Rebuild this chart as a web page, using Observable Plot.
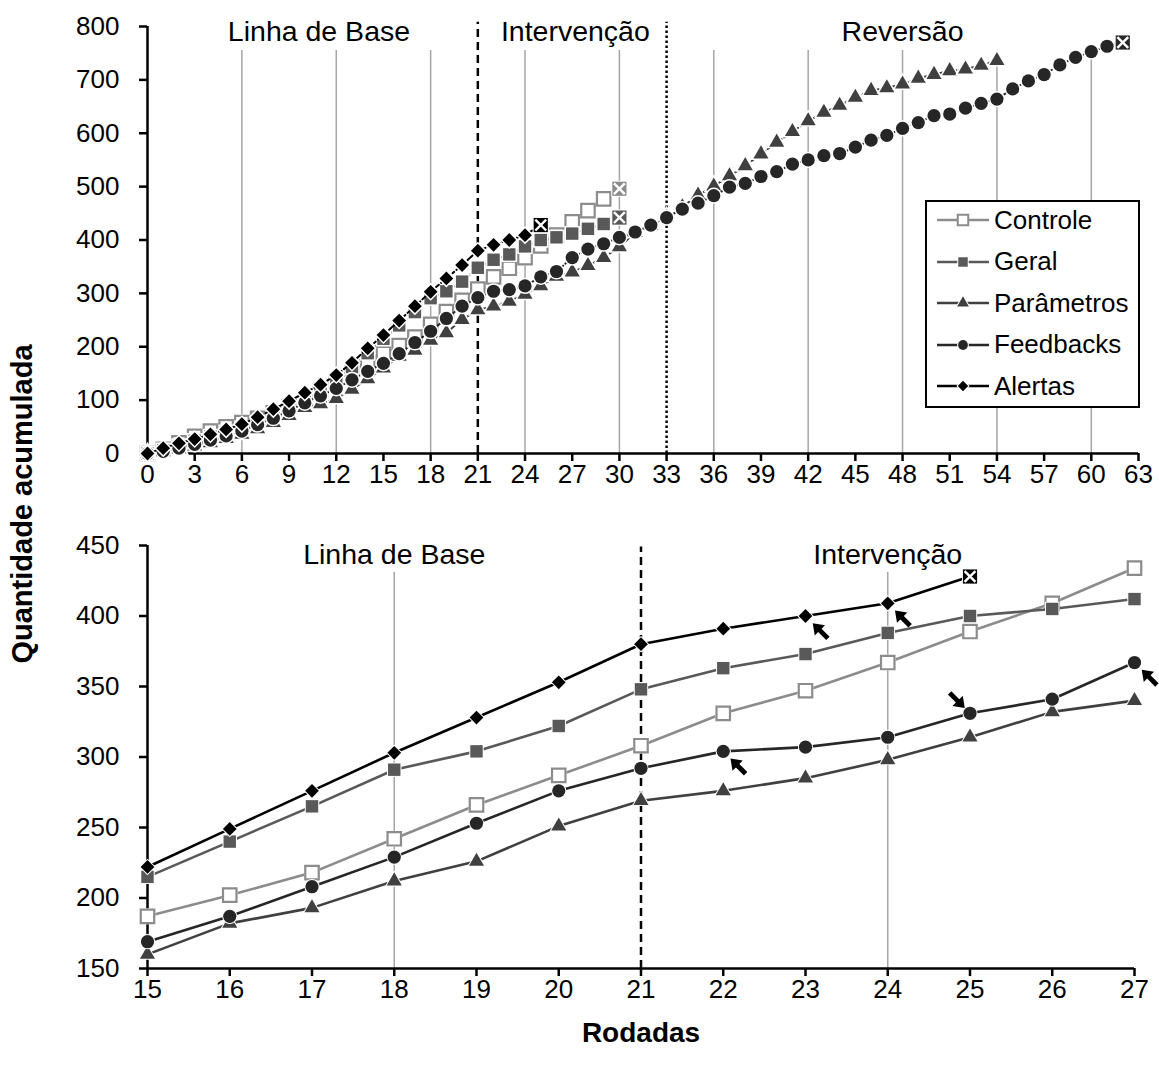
<!DOCTYPE html>
<html><head><meta charset="utf-8">
<script src="https://cdn.jsdelivr.net/npm/d3@7"></script>
<script src="https://cdn.jsdelivr.net/npm/@observablehq/plot@0.6"></script>
<style>
body{margin:0;background:#fff;font-family:"Liberation Sans",Arial,sans-serif;}
#wrap{position:relative;width:1159px;height:1072px;background:#fff;overflow:hidden;}
#top,#bottom{position:absolute;left:0;}
#top{top:0;} #bottom{top:500px;}
#legend{position:absolute;left:925px;top:200px;width:211px;height:204px;border:2px solid #000;background:#fff;}
.lrow{position:absolute;left:0;height:34px;display:flex;align-items:center;}
.lrow span{font-size:26px;color:#000;margin-left:3px;}
#ylab{position:absolute;left:22px;top:504px;transform:translate(-50%,-50%) rotate(-90deg);font-weight:bold;font-size:29px;white-space:nowrap;}
#xlab{position:absolute;left:641px;top:1033px;transform:translate(-50%,-50%);font-weight:bold;font-size:28px;white-space:nowrap;}
</style></head><body>
<div id="wrap"><div id="top"></div><div id="bottom"></div><div id="legend"></div>
<div id="ylab">Quantidade acumulada</div><div id="xlab">Rodadas</div></div>
<script>
// ---------------- DATA (index = rodada, starting at 0) ----------------
const seriesNames = ["Controle","Geral","Parâmetros","Feedbacks","Alertas"];
const controle   = [0,8,20,32,42,50,58,66,76,88, 102,118,135,152,170,187,202,218,242,266, 287,308,331,347,367,389,409,434,455,477, 496];
const geral      = [0,6,14,24,32,40,48,58,70,84, 100,118,138,162,188,215,240,265,291,304, 322,348,363,373,388,400,405,412,421,430, 442];
const parametros = [0,3,8,14,20,28,36,46,58,71, 86,93,103,120,140,160,182,193,212,226, 251,269,276,285,298,314,332,340,352,367, 387,414,427,442,462,484,501,520,539,561, 583,603,623,639,652,667,680,685,692,703, 710,717,720,727,736];
const feedbacks  = [0,4,10,17,25,33,42,54,66,80, 95,108,122,138,154,169,187,208,229,253, 276,292,304,307,314,331,341,367,383,393, 405,415,428,442,458,469,483,499,506,519, 528,542,550,558,562,574,587,596,609,620, 633,636,647,656,664,683,698,710,728,742, 753,763,770];
const alertas    = [0,10,19,27,36,45,55,68,83,98, 114,129,147,170,197,222,249,276,303,328, 353,380,391,400,409,428];
const seriesValues = [controle, geral, parametros, feedbacks, alertas];
const endMarked = ["Controle","Geral","Feedbacks","Alertas"]; // series ending with the crossed box

const topXTicks = [0,3,6,9,12,15,18,21,24,27,30,33,36,39,42,45,48,51,54,57,60,63];
const topYTicks = [0,100,200,300,400,500,600,700,800];
const topGrid = [6,12,18,24,30,36,42,48,54,60];
const topPhases = [{label:"Linha de Base", at:10.9},{label:"Intervenção", at:27.2},{label:"Reversão", at:48}];
const topDashed = [21], topDotted = [33];

const botXTicks = [15,16,17,18,19,20,21,22,23,24,25,26,27];
const botYTicks = [150,200,250,300,350,400,450];
const botGrid = [18,24];
const botPhases = [{label:"Linha de Base", at:18},{label:"Intervenção", at:24}];
const botDashed = [21];
const botRange = [15,27];
// pointer arrows in the lower chart: [rodada, series, direction]
const pointers = [[23,"Alertas","nw"],[24,"Alertas","nw"],[22,"Feedbacks","nw"],[25,"Feedbacks","se"],[27,"Feedbacks","nw"]];

// ---------------- STYLES ----------------
const styles = {
  "Controle":   {color:"#8c8c8c", symbol:"square",   r:7.6, dash:"7,3"},
  "Geral":      {color:"#595959", symbol:"square",   r:7.0, dash:"7,3"},
  "Parâmetros": {color:"#404040", symbol:"triangle", r:5.6, dash:"7,3"},
  "Feedbacks":  {color:"#262626", symbol:"circle",   r:6.6, dash:"2,3,7,3"},
  "Alertas":    {color:"#000000", symbol:"diamond2", r:6.2, dash:"2,3,7,3"}
};
const FONT = '"Liberation Sans", Arial, sans-serif';
const TICKFONT = 26;

const allRows = seriesNames.map((name, i) => seriesValues[i].map((v, r) => ({series:name, round:r, value:v})));

const cursorNW = {
  draw(ctx, size) {
    const k = Math.sqrt(size / Math.PI), c = Math.SQRT1_2;
    const pts = [[0,-1],[0.66,-0.08],[0.22,-0.08],[0.22,0.95],[-0.22,0.95],[-0.22,-0.08],[-0.66,-0.08]];
    pts.forEach(([x,y],i) => {
      const xr = (x*c + y*c)*k, yr = (-x*c + y*c)*k;
      i ? ctx.lineTo(xr,yr) : ctx.moveTo(xr,yr);
    });
    ctx.closePath();
  }
};

function seriesMarks(rows, name, o) {
  const st = styles[name];
  const hasEnd = endMarked.includes(name) && o.endFor(rows, name);
  const pts = hasEnd ? rows.slice(0,-1) : rows;
  const last = hasEnd ? rows.slice(-1) : [];
  const xy = {x:"round", y:"value"};
  const m = [Plot.line(rows, {...xy, stroke:st.color, strokeWidth:o.lw, strokeDasharray:o.dashed ? st.dash : null})];
  if (name === "Controle") {
    m.push(Plot.dot(pts, {...xy, symbol:"square", r:st.r+1.3, fill:"white", stroke:"none"}));
    m.push(Plot.dot(pts, {...xy, symbol:"square", r:st.r, fill:"white", stroke:st.color, strokeWidth:2.2}));
  } else {
    m.push(Plot.dot(pts, {...xy, symbol:st.symbol, r:st.r, fill:st.color, stroke:"white", strokeWidth:o.halo, paintOrder:"stroke"}));
  }
  if (last.length) {
    m.push(Plot.dot(last, {...xy, symbol:"square", r:8, fill:st.color, stroke:"white", strokeWidth:2, paintOrder:"stroke"}));
    m.push(Plot.dot(last, {...xy, symbol:"times", r:5, stroke:"white", strokeWidth:2.4}));
  }
  return m;
}

// ---------------- TOP CHART ----------------
const topChart = Plot.plot({
  width:1159, height:500, marginLeft:147, marginRight:21, marginTop:26, marginBottom:47,
  style:{fontFamily:FONT, fontSize:TICKFONT+"px", color:"#000", background:"white", overflow:"visible"},
  x:{domain:[0,63]}, y:{domain:[0,800]},
  marks:[
    Plot.ruleX(topGrid, {y1:0, y2:755, stroke:"#a6a6a6", strokeWidth:1.5}),
    Plot.ruleX(topDashed, {y1:0, y2:808, stroke:"#000", strokeWidth:2.5, strokeDasharray:"8,5"}),
    Plot.ruleX(topDotted, {y1:0, y2:808, stroke:"#000", strokeWidth:2.5, strokeDasharray:"2.5,2.5"}),
    Plot.text(topPhases, {x:"at", y:()=>790, text:"label", fontSize:28.5, fill:"#000"}),
    Plot.axisX({ticks:topXTicks, label:null, tickSize:8, tickPadding:3, fontSize:TICKFONT, strokeWidth:2.5, tickFormat:d=>String(d)}),
    Plot.axisY({ticks:topYTicks, label:null, tickSize:8, tickPadding:20, fontSize:TICKFONT, strokeWidth:2.5, tickFormat:d=>String(d)}),
    Plot.ruleY([0], {stroke:"#000", strokeWidth:2.5}),
    Plot.ruleX([0], {stroke:"#000", strokeWidth:2.5}),
    ...seriesNames.flatMap((n,i) => seriesMarks(allRows[i], n, {lw:2, dashed:true, halo:3, endFor:()=>true}))
  ]
});
document.getElementById("top").append(topChart);

// ---------------- BOTTOM CHART ----------------
const botRows = allRows.map(rows => rows.filter(d => d.round >= botRange[0] && d.round <= botRange[1]));
const lookup = (r, s) => allRows[seriesNames.indexOf(s)][r].value;
const ptrNW = pointers.filter(p => p[2]==="nw").map(p => ({round:p[0], value:lookup(p[0],p[1])}));
const ptrSE = pointers.filter(p => p[2]==="se").map(p => ({round:p[0], value:lookup(p[0],p[1])}));

const botChart = Plot.plot({
  width:1159, height:510, marginLeft:147, marginRight:25, marginTop:45, marginBottom:42,
  style:{fontFamily:FONT, fontSize:TICKFONT+"px", color:"#000", background:"white", overflow:"visible"},
  x:{domain:botRange}, y:{domain:[150,450]},
  marks:[
    Plot.ruleX(botGrid, {y1:150, y2:431, stroke:"#a6a6a6", strokeWidth:1.5}),
    Plot.ruleX(botDashed, {y1:150, y2:449, stroke:"#000", strokeWidth:2.5, strokeDasharray:"8,5"}),
    Plot.text(botPhases, {x:"at", y:()=>443.5, text:"label", fontSize:28.5, fill:"#000"}),
    Plot.axisX({ticks:botXTicks, label:null, tickSize:8, tickPadding:3, fontSize:TICKFONT, strokeWidth:2.5, tickFormat:d=>String(d)}),
    Plot.axisY({ticks:botYTicks, label:null, tickSize:8, tickPadding:20, fontSize:TICKFONT, strokeWidth:2.5, tickFormat:d=>String(d)}),
    Plot.ruleY([150], {stroke:"#000", strokeWidth:2.5}),
    Plot.ruleX([15], {stroke:"#000", strokeWidth:2.5}),
    ...seriesNames.flatMap((n,i) => seriesMarks(botRows[i], n, {lw:2.6, dashed:false, halo:2, endFor:(rows, name)=>rows[rows.length-1].round === allRows[i].length-1})),
    Plot.dot(ptrNW, {x:"round", y:"value", symbol:cursorNW, r:11, fill:"#000", stroke:"none", dx:15, dy:15}),
    Plot.dot(ptrSE, {x:"round", y:"value", symbol:cursorNW, r:11, fill:"#000", stroke:"none", dx:-13, dy:-13, rotate:180})
  ]
});
document.getElementById("bottom").append(botChart);

// ---------------- LEGEND ----------------
const legend = d3.select("#legend");
seriesNames.forEach((name, i) => {
  const st = styles[name];
  const row = legend.append("div").attr("class","lrow").style("top", (1 + i*41.5) + "px").style("left","8px");
  const svg = row.append("svg").attr("width",56).attr("height",34);
  svg.append("line").attr("x1",2).attr("x2",54).attr("y1",17).attr("y2",17).attr("stroke",st.color).attr("stroke-width",2.5);
  const symMap = {square:d3.symbolSquare, triangle:d3.symbolTriangle, circle:d3.symbolCircle, diamond2:d3.symbolDiamond2};
  const size = name==="Controle" ? 110 : (name==="Geral" ? 90 : (name==="Parâmetros" ? 60 : (name==="Feedbacks" ? 75 : 70)));
  const p = svg.append("path").attr("d", d3.symbol(symMap[st.symbol], size)()).attr("transform","translate(28,17)");
  if (name === "Controle") p.attr("fill","white").attr("stroke",st.color).attr("stroke-width",2);
  else p.attr("fill",st.color).attr("stroke","white").attr("stroke-width",2).attr("paint-order","stroke");
  row.append("span").text(name);
});
</script>
</body></html>
